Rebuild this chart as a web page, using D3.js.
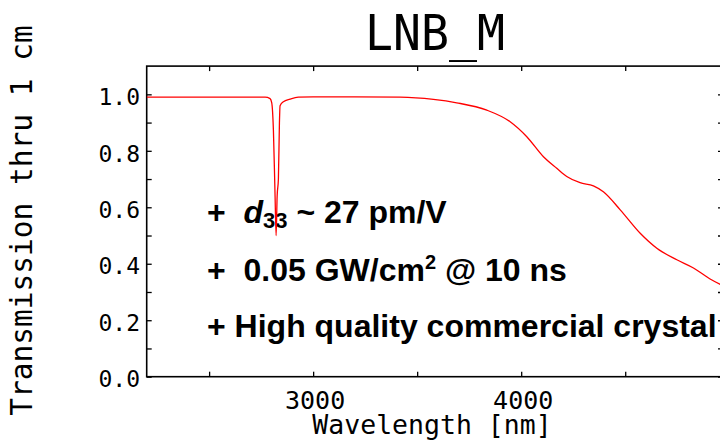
<!DOCTYPE html>
<html>
<head>
<meta charset="utf-8">
<script src="https://cdn.jsdelivr.net/npm/d3@7"></script>
<style>
  body { margin: 0; background: #fff; }
  svg { display: block; }
  .mono { font-family: "DejaVu Sans Mono", monospace; fill: #000; }
  .note { font-family: "Liberation Sans", Arial, sans-serif; font-weight: bold; font-size: 32px; fill: #000; white-space: pre; }
</style>
</head>
<body>
<div id="chart"></div>
<script>
// transmission spectrum
const wavelength = [2200, 2400, 2600, 2700, 2769, 2793, 2801, 2809, 2817, 2822, 2827, 2833, 2838, 2841, 2857, 2889, 2929,
  3000, 3200, 3418, 3578, 3690, 3835, 3947, 4027, 4107, 4171, 4219, 4283, 4347, 4395, 4476, 4572, 4652, 4748, 4828, 4908, 4970];
const transmission = [0.99, 0.99, 0.99, 0.99, 0.99, 0.985, 0.97, 0.874, 0.64, 0.50, 0.64, 0.70, 0.90, 0.96, 0.974, 0.983, 0.99,
  0.991, 0.991, 0.99, 0.982, 0.970, 0.944, 0.903, 0.850, 0.779, 0.738, 0.709, 0.687, 0.676, 0.655, 0.591, 0.508, 0.455, 0.414, 0.385, 0.346, 0.322];

const xTicks = [2500, 3000, 3500, 4000, 4500];
const xTickLabels = ["", "3000", "", "4000", ""];
const yTicks = [0, 0.1, 0.2, 0.3, 0.4, 0.5, 0.6, 0.7, 0.8, 0.9, 1.0];
const yTickLabels = [0, 0.2, 0.4, 0.6, 0.8, 1.0];

const width = 720, height = 441;
const plot = { left: 146.7, right: 723, top: 66.1, bottom: 376.7 };

const svg = d3.select("#chart").append("svg")
  .attr("width", width)
  .attr("height", height);

const x = d3.scaleLinear().domain([2200, 4970]).range([plot.left, plot.right]);
const y = d3.scaleLinear().domain([0, 1.1]).range([plot.bottom, plot.top]);

// title
svg.append("text")
  .attr("class", "mono")
  .attr("x", 365)
  .attr("y", 50)
  .attr("font-size", 50)
  .attr("textLength", 140)
  .attr("lengthAdjust", "spacingAndGlyphs")
  .text("LNB_M");

// axes, ticks pointing inward
const tickLen = 5;
svg.append("g")
  .attr("transform", `translate(0,${plot.bottom})`)
  .call(d3.axisBottom(x).tickValues(xTicks).tickSizeInner(-tickLen).tickSizeOuter(0).tickFormat(""));
svg.append("g")
  .attr("transform", `translate(0,${plot.top})`)
  .call(d3.axisTop(x).tickValues(xTicks).tickSizeInner(-tickLen).tickSizeOuter(0).tickFormat(""));
svg.append("g")
  .attr("transform", `translate(${plot.left},0)`)
  .call(d3.axisLeft(y).tickValues(yTicks).tickSizeInner(-tickLen).tickSizeOuter(0).tickFormat(""));
svg.append("g")
  .attr("transform", `translate(${plot.right},0)`)
  .call(d3.axisRight(y).tickValues(yTicks).tickSizeInner(-tickLen).tickSizeOuter(0).tickFormat(""));

svg.selectAll(".domain").remove();
svg.selectAll(".tick line").attr("stroke", "#000").attr("stroke-width", 1.3);

// frame
svg.append("rect")
  .attr("x", plot.left)
  .attr("y", plot.top)
  .attr("width", plot.right - plot.left)
  .attr("height", plot.bottom - plot.top)
  .attr("fill", "none")
  .attr("stroke", "#000")
  .attr("stroke-width", 1.6);

// tick labels
svg.selectAll(".ylab")
  .data(yTickLabels)
  .join("text")
  .attr("class", "mono ylab")
  .attr("x", 140)
  .attr("y", (d) => y(d) + 10.7)
  .attr("text-anchor", "end")
  .attr("font-size", 23)
  .text((d) => d.toFixed(1));

svg.selectAll(".xlab")
  .data(xTicks)
  .join("text")
  .attr("class", "mono xlab")
  .attr("x", (d) => x(d) + 2)
  .attr("y", 409)
  .attr("text-anchor", "middle")
  .attr("font-size", 25)
  .text((d, i) => xTickLabels[i]);

// axis titles
svg.append("text")
  .attr("class", "mono")
  .attr("x", 432)
  .attr("y", 434)
  .attr("text-anchor", "middle")
  .attr("font-size", 26.5)
  .text("Wavelength [nm]");

svg.append("text")
  .attr("class", "mono")
  .attr("transform", "translate(32,220.5) rotate(-90)")
  .attr("text-anchor", "middle")
  .attr("font-size", 29.5)
  .text("Transmission thru 1 cm");

// notes
const n1 = svg.append("text").attr("class", "note").attr("x", 207).attr("y", 223);
n1.append("tspan").text("+  ");
n1.append("tspan").attr("font-style", "italic").text("d");
n1.append("tspan").attr("font-size", 22).attr("dy", 5).text("33");
n1.append("tspan").attr("dy", -5).text(" ~ 27 pm/V");

const n2 = svg.append("text").attr("class", "note").attr("x", 207).attr("y", 281);
n2.append("tspan").text("+  0.05 GW/cm");
n2.append("tspan").attr("font-size", 20).attr("dy", -12).text("2");
n2.append("tspan").attr("dy", 12).text(" @ 10 ns");

svg.append("text").attr("class", "note").attr("x", 207).attr("y", 337)
  .text("+ High quality commercial crystal");

// spectrum
const points = wavelength.map((w, i) => [w, transmission[i]]);
svg.append("defs").append("clipPath").attr("id", "clip")
  .append("rect")
  .attr("x", plot.left).attr("y", plot.top)
  .attr("width", plot.right - plot.left).attr("height", plot.bottom - plot.top);

svg.append("path")
  .datum(points)
  .attr("clip-path", "url(#clip)")
  .attr("fill", "none")
  .attr("stroke", "#ff0000")
  .attr("stroke-width", 1.3)
  .attr("d", d3.line().x((d) => x(d[0])).y((d) => y(d[1])).curve(d3.curveMonotoneX));
</script>
</body>
</html>
